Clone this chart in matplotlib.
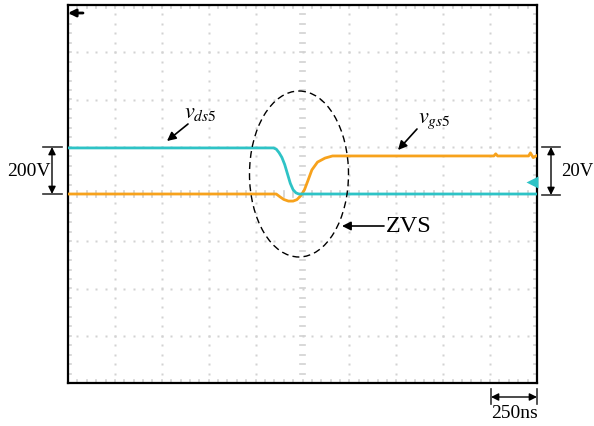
import numpy as np
import matplotlib
matplotlib.use("Agg")
import matplotlib.pyplot as plt
from matplotlib.patches import Ellipse

plt.rcParams['font.family'] = ['Liberation Serif', 'DejaVu Serif']
plt.rcParams['mathtext.fontset'] = 'stix'

# Scope settings
time_per_div = 250      # ns/div
vds_per_div = 200       # V/div
vgs_per_div = 20        # V/div
n_xdiv, n_ydiv = 10, 8

# Drain-source voltage of S5 (V) vs time (ns)
t_ds = [0, 1095, 1110, 1125, 1140, 1155, 1170, 1185, 1200, 1215, 1230, 2500]
v_ds = [195, 195, 190, 175, 155, 125, 85, 45, 18, 5, 0, 0]

# Gate-source voltage of S5 (V) vs time (ns)
t_gs = [0, 1110, 1130, 1150, 1175, 1200, 1220, 1240, 1260, 1280, 1300, 1330,
        1370, 1410, 2270, 2280, 2290, 2455, 2465, 2480, 2500]
v_gs = [0, 0, -1.2, -2.3, -3.0, -3.0, -2.4, -0.8, 1.7, 5.9, 10.2, 13.5,
        15.2, 16.1, 16.1, 17.0, 16.1, 16.1, 17.4, 15.4, 16.3]

W, H = 594, 426
fig = plt.figure(figsize=(W / 100, H / 100), dpi=100)
L, T, R, B = 68, 5, 537, 383
ax = fig.add_axes([L / W, 1 - B / H, (R - L) / W, (B - T) / H])
ax.set_xlim(0, n_xdiv * time_per_div)
ax.set_ylim(-n_ydiv / 2, n_ydiv / 2)
ax.set_xticks([]); ax.set_yticks([])
for s in ax.spines.values():
    s.set_linewidth(1.6)
    s.set_color('black')

# Graticule: dotted division lines, tick marks on centre lines and border
gcol = '#d2d2d2'
sub = 0.2
xs_div = np.arange(1, n_xdiv)
ys_div = np.arange(-n_ydiv / 2 + 1, n_ydiv / 2)
yfine = np.arange(-n_ydiv / 2, n_ydiv / 2 + 1e-9, sub)
xfine = np.arange(0, n_xdiv + 1e-9, sub)
for xd in xs_div:
    if xd == n_xdiv / 2:
        continue
    ax.plot(np.full_like(yfine, xd * time_per_div), yfine, ls='none',
            marker='s', ms=1.6, mec='none', mfc=gcol)
for yd in ys_div:
    if yd == 0:
        continue
    ax.plot(xfine * time_per_div, np.full_like(xfine, yd), ls='none',
            marker='s', ms=1.6, mec='none', mfc=gcol)
tl = 0.06
for y in yfine:
    for xc in (0, n_xdiv / 2, n_xdiv):
        ax.plot([(xc - tl) * time_per_div, (xc + tl) * time_per_div], [y, y],
                color=gcol, lw=1.2)
for x in xfine:
    for yc in (-n_ydiv / 2, 0, n_ydiv / 2):
        ax.plot([x * time_per_div] * 2, [yc - tl, yc + tl], color=gcol, lw=1.2)

# Traces
cyan = '#2ec3c6'
orange = '#f7a21c'
ax.plot(t_gs, np.array(v_gs) / vgs_per_div, color=orange, lw=2.0,
        solid_joinstyle='round', zorder=5)
ax.plot(t_ds, np.array(v_ds) / vds_per_div, color=cyan, lw=2.0,
        solid_joinstyle='round', zorder=6)

# Overlay in pixel units for the annotations
ov = fig.add_axes([0, 0, 1, 1], facecolor='none')
ov.set_xlim(0, W); ov.set_ylim(H, 0)
ov.axis('off')

# Channel and trigger markers
ov.plot([532], [182], marker='<', ms=8, color=cyan, mec='none', zorder=7)
ov.annotate('', xy=(68, 13), xytext=(83, 13),
            arrowprops=dict(arrowstyle='-|>', color='black', lw=2,
                            mutation_scale=11, shrinkA=0, shrinkB=0))

dbl = dict(arrowstyle='<|-|>', color='black', lw=1.0, mutation_scale=11,
           shrinkA=0, shrinkB=0)
one = dict(arrowstyle='-|>', color='black', lw=1.2, mutation_scale=13,
           shrinkA=0, shrinkB=0)

# 200V scale bracket (left)
for y in (147, 194):
    ov.plot([43, 62], [y, y], color='#333333', lw=1.2)
ov.annotate('', xy=(52, 147), xytext=(52, 194), arrowprops=dbl)
ov.text(7, 172, '200V', fontsize=14, va='center', ha='left')

# 20V scale bracket (right)
for y in (147, 195):
    ov.plot([542, 560], [y, y], color='#333333', lw=1.2)
ov.annotate('', xy=(551, 147), xytext=(551, 195), arrowprops=dbl)
ov.text(561, 172, '20V', fontsize=13.5, va='center', ha='left')

# 250ns time bracket (bottom)
for x in (491, 537):
    ov.plot([x, x], [389, 404], color='#333333', lw=1.2)
ov.annotate('', xy=(491, 397), xytext=(537, 397), arrowprops=dbl)
ov.text(514, 413, '250ns', fontsize=14, va='center', ha='center')

# Trace labels
ov.text(184, 118, r'$v_{ds\mathrm{5}}$', fontsize=16, ha='left', va='baseline')
ov.annotate('', xy=(167, 141), xytext=(188, 124), arrowprops=one)
ov.text(418, 123, r'$v_{gs\mathrm{5}}$', fontsize=16, ha='left', va='baseline')
ov.annotate('', xy=(398, 150), xytext=(417, 129), arrowprops=one)

# ZVS region
ov.add_patch(Ellipse((299, 174), 99, 166, fill=False, ls=(0, (5, 3)),
                     lw=1.0, ec='black'))
ov.annotate('', xy=(342, 226), xytext=(384, 226), arrowprops=one)
ov.text(386, 227, 'ZVS', fontsize=17.5, ha='left', va='center')

fig.savefig('out.png', dpi=100)
